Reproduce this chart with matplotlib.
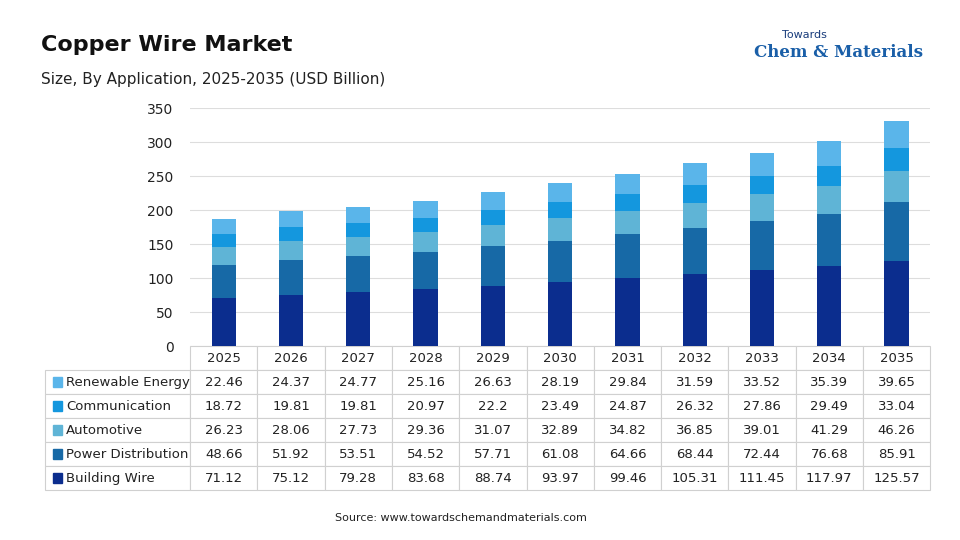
import matplotlib
matplotlib.use("Agg")
import matplotlib.pyplot as plt
from matplotlib.patches import Rectangle

years = ["2025","2026","2027","2028","2029","2030","2031","2032","2033","2034","2035"]
building = [71.12,75.12,79.28,83.68,88.74,93.97,99.46,105.31,111.45,117.97,125.57]
power = [48.66,51.92,53.51,54.52,57.71,61.08,64.66,68.44,72.44,76.68,85.91]
auto = [26.23,28.06,27.73,29.36,31.07,32.89,34.82,36.85,39.01,41.29,46.26]
comm = [18.72,19.81,19.81,20.97,22.2,23.49,24.87,26.32,27.86,29.49,33.04]
renew = [22.46,24.37,24.77,25.16,26.63,28.19,29.84,31.59,33.52,35.39,39.65]

series = [("Building Wire", building, "#0b2d8e"),
          ("Power Distribution", power, "#1769a6"),
          ("Automotive", auto, "#5fb4d6"),
          ("Communication", comm, "#1497de"),
          ("Renewable Energy", renew, "#5ab5ea")]

fig = plt.figure(figsize=(9.6,5.4), dpi=100)
ax = fig.add_axes([0.198, 0.359, 0.771, 0.441])
x = list(range(len(years)))
bottom = [0]*len(years)
for name, vals, c in series:
    ax.bar(x, vals, 0.36, bottom=bottom, color=c, zorder=3)
    bottom = [b+v for b, v in zip(bottom, vals)]
ax.set_xlim(-0.5, len(years)-0.5)
ax.set_ylim(0, 350)
ax.set_yticks(range(0, 351, 50))
ax.grid(axis="y", color="#dddddd", lw=0.8, zorder=0)
for s in ax.spines.values():
    s.set_visible(False)
ax.tick_params(axis="y", length=0, labelsize=10, colors="#222222", pad=12)
ax.set_xticks([])

rows = [["", *years]]
for name, vals, c in reversed(series):
    rows.append(["", *[f"{v:g}" for v in vals]])
lw = 145/740; cw = 1/11
tb = ax.table(cellText=rows, bbox=[-lw, -0.605, 1+lw, 0.605],
              colWidths=[lw]+[cw]*11, cellLoc="center")
tb.auto_set_font_size(False)
tb.set_fontsize(9.5)
for (r, c), cell in tb.get_celld().items():
    cell.set_edgecolor("#d0d0d0")
    cell.set_linewidth(0.8)
    cell.get_text().set_color("#222222")
    if r == 0 and c == 0:
        cell.set_edgecolor("white")
rowh = 0.605/6
for i, (name, vals, c) in enumerate(reversed(series)):
    yc = -rowh*(i+1) - rowh/2
    ax.add_patch(Rectangle((-lw+0.011, yc-0.022), 0.012, 0.044, transform=ax.transAxes,
                           color=c, clip_on=False))
    ax.text(-lw+0.028, yc, name, transform=ax.transAxes, fontsize=9.5, va="center",
            ha="left", color="#222222")

fig.text(0.043, 0.905, "Copper Wire Market", fontsize=16, fontweight="heavy", color="#111111")
fig.text(0.043, 0.845, "Size, By Application, 2025-2035 (USD Billion)", fontsize=11, color="#222222")
fig.text(0.815, 0.93, "Towards", fontsize=8, color="#1a3d7c")
fig.text(0.785, 0.895, "Chem & Materials", fontsize=12, fontweight="bold", color="#1a5fa8", family="DejaVu Serif")
fig.text(0.48, 0.035, "Source: www.towardschemandmaterials.com", fontsize=8, ha="center", color="#222222")
fig.savefig("out.png", dpi=100, facecolor="white")
